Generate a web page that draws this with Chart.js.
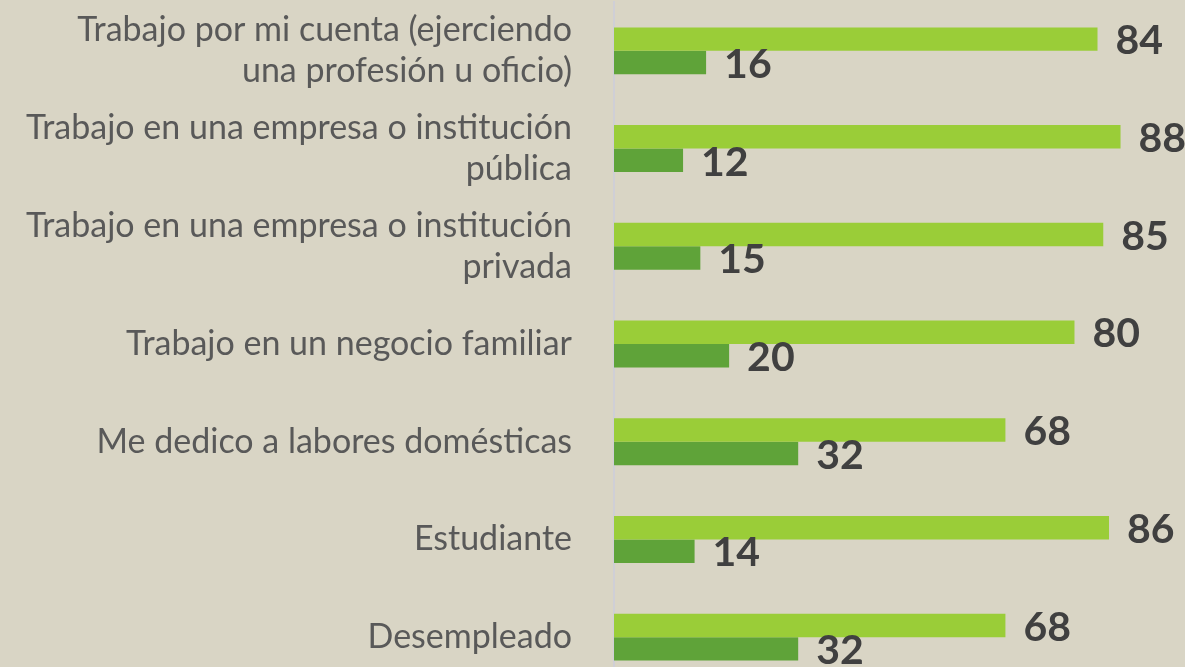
<!DOCTYPE html>
<html>
<head>
<meta charset="utf-8">
<script src="https://cdn.jsdelivr.net/npm/chart.js@4"></script>
<style>
html,body{margin:0;padding:0;background:#d9d5c5;overflow:hidden;}
#wrap{width:1185px;height:686px;position:relative;}
</style>
</head>
<body>
<div id="wrap"><canvas id="c"></canvas></div>
<script>
const categories = [
  ['Trabajo por mi cuenta (ejerciendo','una profesión u oficio)'],
  ['Trabajo en una empresa o institución','pública'],
  ['Trabajo en una empresa o institución','privada'],
  'Trabajo en un negocio familiar',
  'Me dedico a labores domésticas',
  'Estudiante',
  'Desempleado'
];
const seriesA = [84, 88, 85, 80, 68, 86, 68];
const seriesB = [16, 12, 15, 20, 32, 14, 32];

const valueLabels = {
  id: 'valueLabels',
  afterDatasetsDraw(chart) {
    const ctx = chart.ctx;
    ctx.save();
    ctx.font = 'bold 41px Lato';
    ctx.fillStyle = '#404040';
    ctx.textAlign = 'left';
    ctx.textBaseline = 'middle';
    chart.data.datasets.forEach((ds, di) => {
      const meta = chart.getDatasetMeta(di);
      meta.data.forEach((bar, i) => {
        ctx.fillText(String(ds.data[i]), bar.x + 18, bar.y + 2);
      });
    });
    ctx.restore();
  }
};

new Chart(document.getElementById('c'), {
  type: 'bar',
  data: {
    labels: categories,
    datasets: [
      { data: seriesA, backgroundColor: '#9acd38', barPercentage: 1, categoryPercentage: 0.48 },
      { data: seriesB, backgroundColor: '#5fa339', barPercentage: 1, categoryPercentage: 0.48 }
    ]
  },
  options: {
    indexAxis: 'y',
    responsive: true,
    maintainAspectRatio: false,
    animation: false,
    layout: { padding: { top: 2, right: 0, bottom: 0, left: 0 } },
    plugins: { legend: { display: false }, tooltip: { enabled: false } },
    scales: {
      x: { display: false, min: 0, max: 99.2 },
      y: {
        grid: { display: false },
        border: { display: true, color: '#cfcfd6', width: 2 },
        ticks: {
          color: '#595959',
          font: { family: 'Lato', size: 34, lineHeight: 1.2 },
          padding: 34
        },
        afterFit(scale) {
          scale.width = 614;
          scale.paddingTop = 0;
          scale.paddingBottom = 0;
        }
      }
    }
  },
  plugins: [valueLabels]
});
</script>
</body>
</html>
